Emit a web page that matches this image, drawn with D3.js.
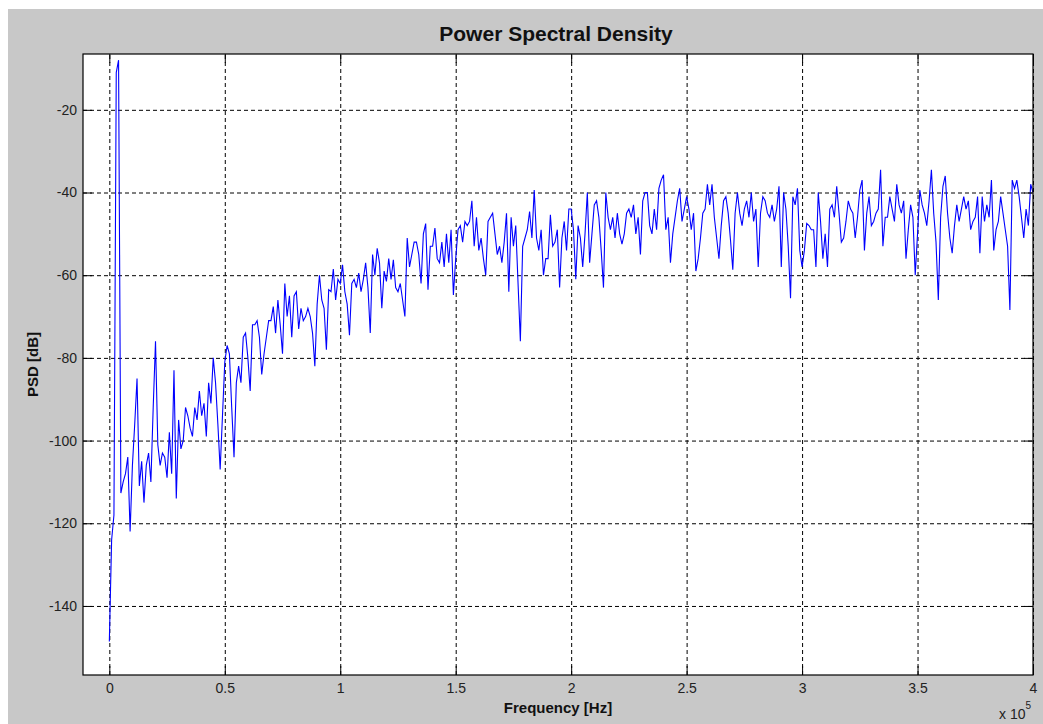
<!DOCTYPE html>
<html>
<head>
<meta charset="utf-8">
<script src="https://d3js.org/d3.v7.min.js"></script>
<style>
  body { margin: 0; background: #ffffff; }
  svg { display: block; font-family: "Liberation Sans", Arial, sans-serif; }
  .grid line { stroke: #000; stroke-dasharray: 4,3; stroke-width: 1; }
  .grid .domain { display: none; }
  .axis text { font-size: 14px; fill: #222; }
  .axis line { stroke: #000; }
  .axis .domain { display: none; }
</style>
</head>
<body>
<div id="chart"></div>
<script>
// PSD values in dB, one value every 1 kHz
var psdA = [-148.6, -124, -118, -11, -8, -112.7, -110, -108, -104, -122,
  -106, -96, -85, -111, -105, -115, -106, -103, -110, -92,
  -76, -101, -106, -103, -104, -109, -98, -108, -83, -114,
  -95, -102, -100, -92, -94, -97, -99, -92, -95, -88,
  -94, -91, -99, -86, -91, -80, -86, -96, -107, -94,
  -81, -77, -79, -92, -104, -86, -82, -86, -75, -74,
  -80, -88, -72, -72, -71, -75];
var psdB = [-84, -79, -75, -71, -71, -67.6, -74, -66, -72, -79,
  -62, -70, -65, -75, -65, -64, -73, -68, -71, -70,
  -68, -70, -74, -82, -67, -60, -66, -68, -78, -63.5,
  -64, -58.5, -66, -61, -62, -57.5, -64, -67, -74.5, -62,
  -61, -63, -59.5, -64, -61, -57, -63, -74, -55, -60,
  -53.5, -57, -68, -59, -61.5, -56, -61, -56.3, -63, -64,
  -62, -66, -70, -51, -58, -55, -52];
var psdC = [-52, -55, -62, -50, -47.5, -63.5, -53, -53, -48.6, -56,
  -57, -52, -58, -50, -57, -49, -64.8, -56, -49, -48,
  -52, -47, -48, -47, -42, -53, -46, -54, -51, -56,
  -60, -47, -46, -45, -50, -55, -53, -57, -52, -45,
  -64, -46, -53, -48, -62, -76, -53, -51, -49, -44.6,
  -51, -39.4, -51, -54, -49, -60, -56, -56, -45.4, -53,
  -52, -49, -63, -51, -47, -54, -44];
var psdD = [-44, -49, -61, -48, -51, -58, -50, -40, -57, -50,
  -43, -42, -46, -54, -63, -40, -46, -49, -46, -51,
  -45, -50, -52.5, -50, -45, -44, -46, -43, -50, -46,
  -55, -42, -40, -40, -48, -50, -44, -49, -39, -37,
  -35.7, -49, -46, -57, -50, -46, -42, -39, -47, -44,
  -41, -44, -49, -45, -59, -56, -51, -45, -44, -38,
  -43, -38, -46, -51, -56, -48, -42];
var psdE = [-41, -45, -51.5, -58.7, -45, -40, -45, -48, -44, -42,
  -46, -40, -47, -44, -58, -45, -41, -42, -45, -46,
  -43, -47, -44, -38.5, -58, -40, -44, -53, -65.6, -41,
  -43, -39, -54, -58, -54, -47.5, -48, -49, -49, -58,
  -40, -47, -56, -50, -58, -44, -43, -46, -38.5, -45,
  -52, -51, -47, -42, -44, -45, -51, -46, -39.4, -37,
  -54, -45, -41, -48, -47, -45, -44];
var psdF = [-34.5, -53, -46, -46, -41, -44, -47, -38, -43, -45,
  -42, -56, -49, -43, -46, -60, -50, -39.4, -43, -45,
  -48, -42, -34.5, -45, -52, -66, -46, -38.5, -36, -45,
  -51, -54.7, -48, -43, -47, -44, -41, -44, -42, -49,
  -47, -46, -41, -54.7, -41, -47, -43, -46, -37, -54,
  -49, -47, -41, -45, -49, -53, -68.4, -37, -39, -37,
  -41, -46, -51, -44, -48, -38, -40];

var fStep = 1000; // Hz between samples
var xTicks = [0, 50000, 100000, 150000, 200000, 250000, 300000, 350000, 400000];
var xTickLabels = ["0", "0.5", "1", "1.5", "2", "2.5", "3", "3.5", "4"];
var yTicks = [-140, -120, -100, -80, -60, -40, -20];

var psd = psdA.concat(psdB, psdC, psdD, psdE, psdF);
var data = psd.map(function (v, i) { return { f: i * fStep, db: v }; });

var W = 1043, H = 724;
var margin = { top: 54, left: 83 };
var width = 950, height = 621;

var svg = d3.select("#chart").append("svg")
  .attr("width", W)
  .attr("height", H);

// figure background (thin white strip on top/left like the screenshot)
svg.append("rect").attr("width", W).attr("height", H).attr("fill", "#fff");
svg.append("rect").attr("x", 8).attr("y", 9).attr("width", W - 8).attr("height", H - 9).attr("fill", "#c8c8c8");

var g = svg.append("g").attr("transform", "translate(" + margin.left + "," + margin.top + ")");

var x = d3.scaleLinear().domain([-11400, 400000]).range([0, width]);
var y = d3.scaleLinear().domain([-156.7, -6.5]).range([height, 0]);

g.append("rect").attr("width", width).attr("height", height).attr("fill", "#fff");

// dashed grid
g.append("g").attr("class", "grid")
  .attr("transform", "translate(0," + height + ")")
  .call(d3.axisBottom(x).tickValues(xTicks).tickSize(-height).tickFormat(""));
g.append("g").attr("class", "grid")
  .call(d3.axisLeft(y).tickValues(yTicks).tickSize(-width).tickFormat(""));

// the trace
g.append("clipPath").attr("id", "clip")
  .append("rect").attr("width", width).attr("height", height);

var line = d3.line()
  .x(function (d) { return x(d.f); })
  .y(function (d) { return y(d.db); });

g.append("path")
  .datum(data)
  .attr("clip-path", "url(#clip)")
  .attr("fill", "none")
  .attr("stroke", "#0000ff")
  .attr("stroke-width", 1.1)
  .attr("d", line);

// axes, ticks pointing inward
g.append("g").attr("class", "axis")
  .attr("transform", "translate(0," + height + ")")
  .call(d3.axisBottom(x).tickValues(xTicks).tickSizeInner(-9).tickSizeOuter(0).tickPadding(8)
    .tickFormat(function (d, i) { return xTickLabels[i]; }));
g.append("g").attr("class", "axis")
  .call(d3.axisTop(x).tickValues(xTicks).tickSizeInner(-9).tickSizeOuter(0).tickFormat(""));
g.append("g").attr("class", "axis")
  .call(d3.axisLeft(y).tickValues(yTicks).tickSizeInner(-9).tickSizeOuter(0).tickPadding(6)
    .tickFormat(function (d) { return String(d); }));
g.append("g").attr("class", "axis")
  .attr("transform", "translate(" + width + ",0)")
  .call(d3.axisRight(y).tickValues(yTicks).tickSizeInner(-9).tickSizeOuter(0).tickFormat(""));

// box
g.append("rect").attr("width", width).attr("height", height)
  .attr("fill", "none").attr("stroke", "#000").attr("stroke-width", 1.2);

// title and labels
svg.append("text")
  .attr("x", margin.left + width / 2 - 2).attr("y", 41)
  .attr("text-anchor", "middle")
  .style("font-size", "21px").style("font-weight", "bold").attr("fill", "#111")
  .text("Power Spectral Density");

svg.append("text")
  .attr("x", margin.left + width / 2).attr("y", 713)
  .attr("text-anchor", "middle")
  .style("font-size", "15px").style("font-weight", "bold").attr("fill", "#111")
  .text("Frequency [Hz]");

svg.append("text")
  .attr("transform", "translate(38," + (margin.top + height / 2) + ") rotate(-90)")
  .attr("text-anchor", "middle")
  .style("font-size", "15px").style("font-weight", "bold").attr("fill", "#111")
  .text("PSD [dB]");

var expo = svg.append("text")
  .attr("x", 999).attr("y", 719)
  .style("font-size", "14px").attr("fill", "#222");
expo.append("tspan").text("x 10");
expo.append("tspan").attr("dy", -10).style("font-size", "10px").text("5");
</script>
</body>
</html>
